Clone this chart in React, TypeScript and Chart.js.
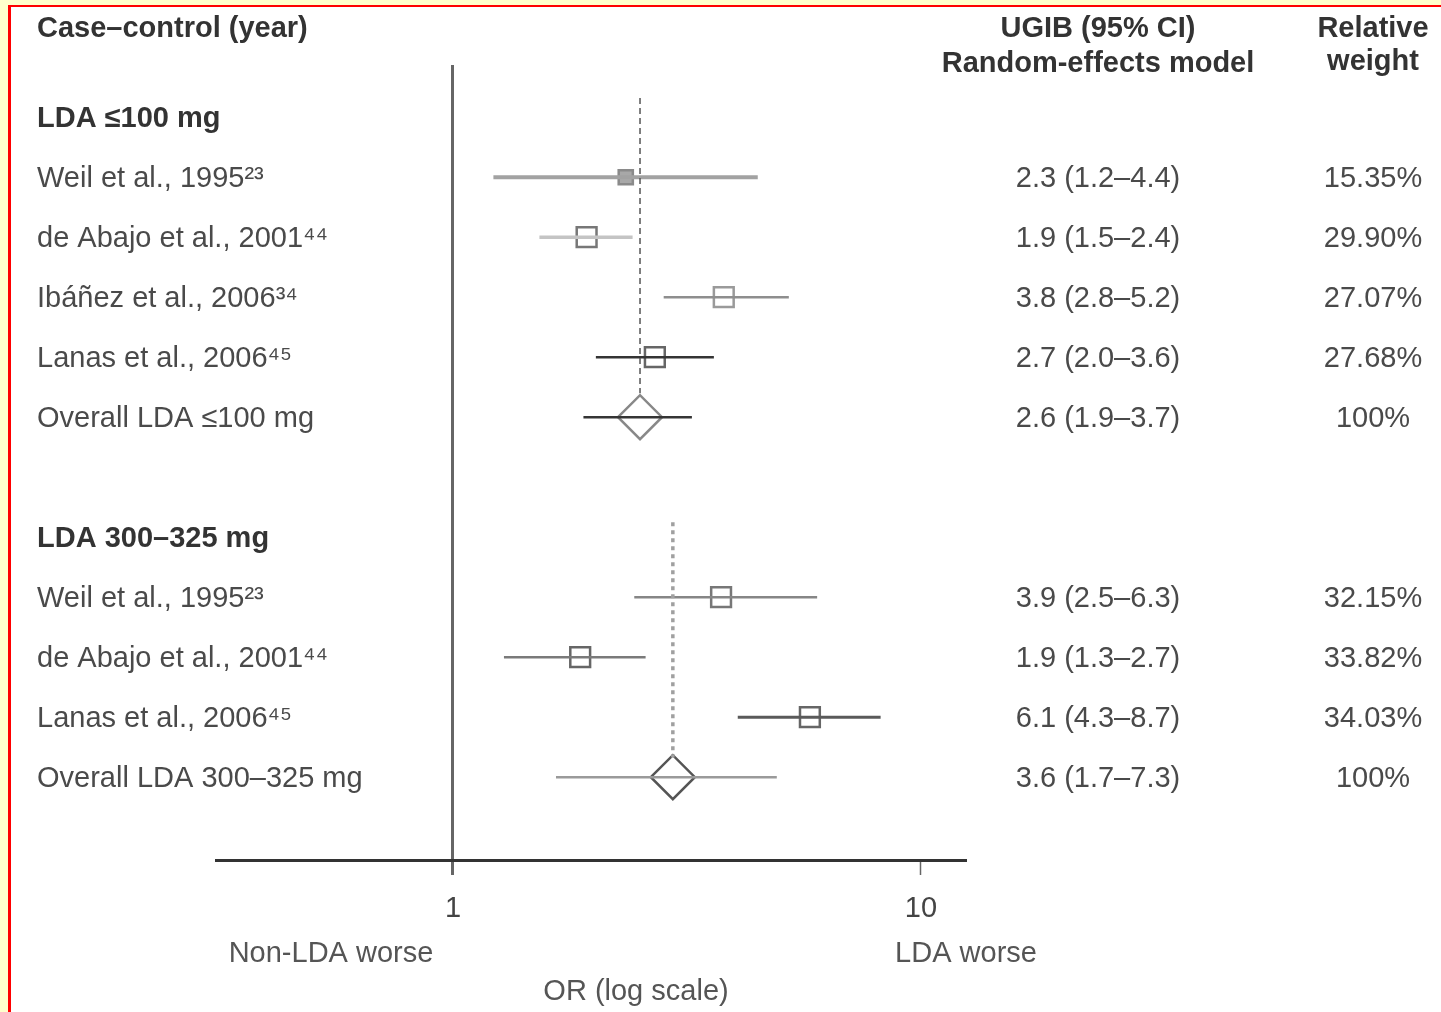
import React, { useEffect, useRef } from "react";
import { Chart, registerables } from "chart.js";

Chart.register(...registerables);

// ---- data ----
const rowLabels = [
  "LDA ≤100 mg",
  "Weil et al., 1995²³",
  "de Abajo et al., 2001⁴⁴",
  "Ibáñez et al., 2006³⁴",
  "Lanas et al., 2006⁴⁵",
  "Overall LDA ≤100 mg",
  "",
  "LDA 300–325 mg",
  "Weil et al., 1995²³",
  "de Abajo et al., 2001⁴⁴",
  "Lanas et al., 2006⁴⁵",
  "Overall LDA 300–325 mg",
];
const headerRows = [0, 7];
const studyRows = [1, 2, 3, 4, 8, 9, 10];
const overallRows = [5, 11];

// plotted odds ratios
const estimates = [null, 2.34, 1.93, 3.79, 2.7, 2.51, null, null, 3.74, 1.87, 5.79, 2.95];
const lowerCI = [null, 1.22, 1.53, 2.82, 2.02, 1.9, null, null, 2.44, 1.285, 4.06, 1.66];
const upperCI = [null, 4.48, 2.42, 5.22, 3.61, 3.24, null, null, 6.0, 2.58, 8.2, 4.92];

const ciLabels = ["", "2.3 (1.2–4.4)", "1.9 (1.5–2.4)", "3.8 (2.8–5.2)", "2.7 (2.0–3.6)", "2.6 (1.9–3.7)", "", "", "3.9 (2.5–6.3)", "1.9 (1.3–2.7)", "6.1 (4.3–8.7)", "3.6 (1.7–7.3)"];
const weightLabels = ["", "15.35%", "29.90%", "27.07%", "27.68%", "100%", "", "", "32.15%", "33.82%", "34.03%", "100%"];

const xTickValues = [1, 10];

// dashed reference lines through each overall estimate
const refLines = [
  { row: 5, from: -0.32, to: 4.6 },
  { row: 11, from: 6.75, to: 10.67 },
];

// ---- styles ----
const lineColors = ["", "#a2a2a2", "#c4c4c4", "#8e8e8e", "#343434", "#353535", "", "", "#868686", "#7a7a7a", "#5a5a5a", "#9a9a9a"];
const lineWidths = [0, 4, 3.5, 2.5, 2.5, 2.5, 0, 0, 2.5, 2.5, 3, 2.5];
const markerBorder = ["", "#8a8a8a", "#777777", "#9a9a9a", "#666666", "#888888", "", "", "#777777", "#666666", "#666666", "#555555"];
const markerFill = ["", "#a8a8a8", "transparent", "transparent", "transparent", "transparent", "", "", "transparent", "transparent", "transparent", "transparent"];
const markerRadius = [0, 10, 14, 14, 14, 22, 0, 0, 14, 14, 14, 22];

const FONT = "'Liberation Sans', Arial, sans-serif";

const textPlugin = {
  id: "forestText",
  afterDraw(chart: any) {
    const { ctx } = chart;
    const y = chart.scales.y;
    ctx.save();
    ctx.textBaseline = "middle";
    // headers
    ctx.fillStyle = "#333333";
    ctx.font = `bold 29px ${FONT}`;
    ctx.textAlign = "left";
    ctx.fillText("Case–control (year)", 37, 29);
    ctx.textAlign = "center";
    ctx.fillText("UGIB (95% CI)", 1098, 29);
    ctx.fillText("Random-effects model", 1098, 64);
    ctx.fillText("Relative", 1373, 29);
    ctx.fillText("weight", 1373, 62);
    // left labels and right columns
    rowLabels.forEach((lab, i) => {
      const py = y.getPixelForValue(i) + 2;
      const bold = headerRows.includes(i);
      ctx.textAlign = "left";
      ctx.font = `${bold ? "bold " : ""}29px ${FONT}`;
      ctx.fillStyle = bold ? "#333333" : "#4a4a4a";
      if (lab) ctx.fillText(lab, 37, py);
      ctx.textAlign = "center";
      ctx.font = `29px ${FONT}`;
      ctx.fillStyle = "#4a4a4a";
      if (ciLabels[i]) ctx.fillText(ciLabels[i], 1098, py);
      if (weightLabels[i]) ctx.fillText(weightLabels[i], 1373, py);
    });
    // axis annotations
    ctx.textAlign = "center";
    ctx.font = `29px ${FONT}`;
    ctx.fillStyle = "#555555";
    ctx.fillText("Non-LDA worse", 331, 954);
    ctx.fillText("LDA worse", 966, 954);
    ctx.fillText("OR (log scale)", 636, 992);
    ctx.restore();
  },
};

export default function App() {
  const ref = useRef<HTMLCanvasElement | null>(null);

  useEffect(() => {
    if (!ref.current) return;
    const datasets: any[] = [];

    refLines.forEach((r, k) => {
      datasets.push({
        data: [
          { x: estimates[r.row], y: r.from },
          { x: estimates[r.row], y: r.to },
        ],
        showLine: true,
        borderColor: k === 0 ? "#555555" : "#a0a0a0",
        borderWidth: k === 0 ? 1.5 : 3.5,
        borderDash: k === 0 ? [6, 4] : [4, 4],
        pointRadius: 0,
      });
    });

    [...studyRows, ...overallRows].forEach((i) => {
      datasets.push({
        data: [
          { x: lowerCI[i], y: i },
          { x: upperCI[i], y: i },
        ],
        showLine: true,
        borderColor: lineColors[i],
        borderWidth: lineWidths[i],
        pointRadius: 0,
      });
    });

    datasets.push({
      data: studyRows.map((i) => ({ x: estimates[i], y: i })),
      pointStyle: "rect",
      pointRadius: studyRows.map((i) => markerRadius[i]),
      pointBackgroundColor: studyRows.map((i) => markerFill[i]),
      pointBorderColor: studyRows.map((i) => markerBorder[i]),
      pointBorderWidth: 2.5,
    });

    datasets.push({
      data: overallRows.map((i) => ({ x: estimates[i], y: i })),
      pointStyle: "rectRot",
      pointRadius: overallRows.map((i) => markerRadius[i]),
      pointBackgroundColor: "transparent",
      pointBorderColor: overallRows.map((i) => markerBorder[i]),
      pointBorderWidth: 2.5,
    });

    const chart = new Chart(ref.current, {
      type: "scatter",
      data: { datasets },
      plugins: [textPlugin],
      options: {
        animation: false,
        responsive: false,
        events: [],
        layout: { padding: { left: 37, top: 65, right: 476, bottom: 72 } },
        plugins: { legend: { display: false }, tooltip: { enabled: false } },
        scales: {
          x: {
            type: "logarithmic",
            bounds: "data",
            min: 0.3116,
            max: 12.42,
            afterBuildTicks: (s: any) => {
              s.ticks = xTickValues.map((v) => ({ value: v }));
            },
            afterFit: (s: any) => {
              s.height = 80;
              s.paddingLeft = 0;
              s.paddingRight = 0;
            },
            ticks: {
              callback: (v: any) => String(v),
              color: "#444444",
              font: { family: FONT, size: 29 },
              padding: 17,
              autoSkip: false,
              maxRotation: 0,
            },
            grid: {
              drawOnChartArea: true,
              color: (c: any) => (c.tick && c.tick.value === 1 ? "#666666" : "rgba(0,0,0,0)"),
              lineWidth: (c: any) => (c.tick && c.tick.value === 1 ? 3 : 1),
              tickColor: "#666666",
              tickWidth: (c: any) => (c.tick && c.tick.value === 1 ? 3 : 1.5),
              tickLength: 15,
            },
            border: { display: true, color: "#333333", width: 3 },
          },
          y: {
            type: "linear",
            reverse: true,
            bounds: "data",
            min: -0.87,
            max: 12.38,
            afterBuildTicks: (s: any) => {
              s.ticks = rowLabels.map((_, i) => ({ value: i }));
            },
            afterFit: (s: any) => {
              s.width = 179;
              s.paddingTop = 0;
              s.paddingBottom = 0;
            },
            ticks: { display: false },
            grid: { display: false, drawTicks: false },
            border: { display: false },
          },
        },
      } as any,
    });
    return () => chart.destroy();
  }, []);

  return (
    <div
      style={{
        position: "fixed",
        left: 0,
        top: 0,
        width: 1441,
        height: 1012,
        background: "#ffffcc",
        overflow: "hidden",
      }}
    >
      <div
        style={{
          position: "absolute",
          left: 8,
          top: 5,
          width: 1500,
          height: 1100,
          background: "#ffffff",
          borderLeft: "3px solid #ff0000",
          borderTop: "2px solid #ff0000",
        }}
      />
      <canvas
        ref={ref}
        width={1441}
        height={1012}
        style={{ position: "absolute", left: 0, top: 0, display: "block" }}
      />
    </div>
  );
}
